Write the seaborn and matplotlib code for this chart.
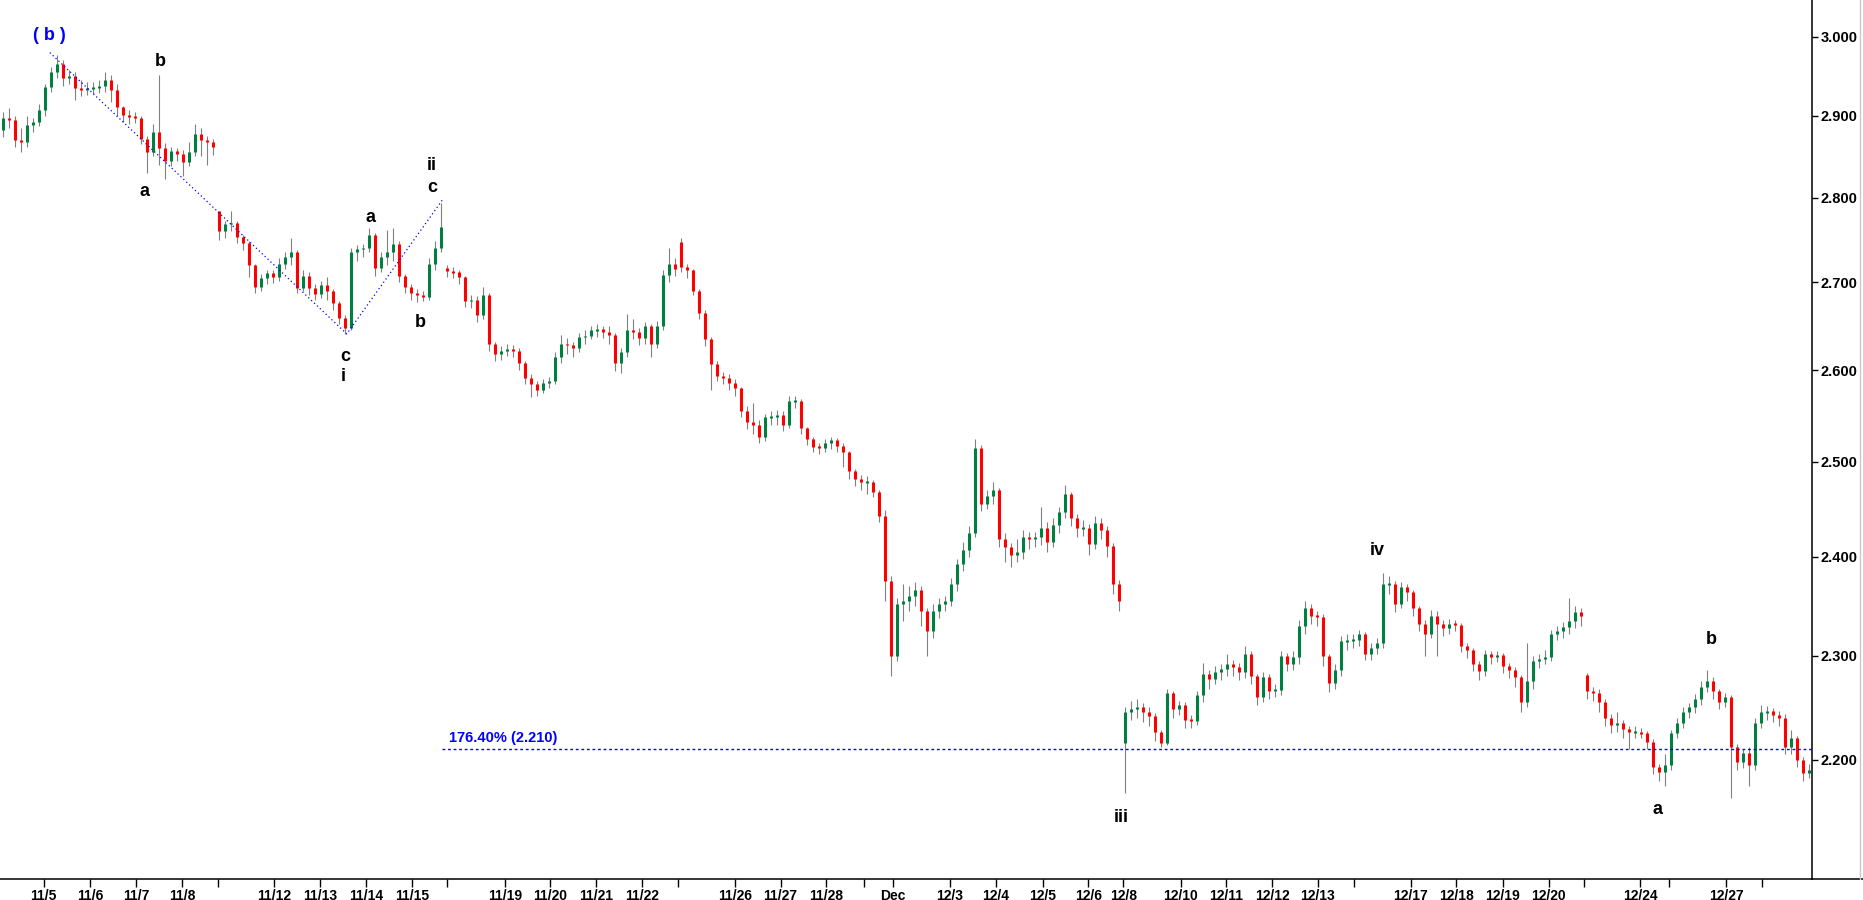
import numpy as np
import pandas as pd
import matplotlib
matplotlib.use("Agg")
import matplotlib.pyplot as plt
from matplotlib.lines import Line2D
from matplotlib.ticker import FixedLocator, FuncFormatter, NullLocator
import seaborn as sns

# Style
sns.set_theme(style="white")
plt.rcParams['font.family'] = ['Liberation Sans', 'DejaVu Sans']

OUT_FILE = "out.png"

# --- price data (one bar per ~1/8 session) ---
closes = [
    2.897, 2.895, 2.870, 2.868, 2.889, 2.892, 2.908, 2.936, 2.955, 2.966,
    2.948, 2.950, 2.935, 2.932, 2.935, 2.935, 2.937, 2.945, 2.933, 2.911,
    2.901, 2.899, 2.898, 2.872, 2.855, 2.880, 2.860, 2.845, 2.857, 2.853,
    2.843, 2.855, 2.878, 2.870, 2.868, 2.862, 2.760, 2.768, 2.770, 2.753,
    2.746, 2.720, 2.695, 2.705, 2.711, 2.706, 2.722, 2.730, 2.735, 2.694,
    2.708, 2.694, 2.687, 2.697, 2.690, 2.676, 2.659, 2.648, 2.735, 2.739,
    2.740, 2.756, 2.717, 2.730, 2.735, 2.745, 2.707, 2.695, 2.688, 2.686,
    2.683, 2.722, 2.740, 2.765, 2.713, 2.712, 2.706, 2.678, 2.680, 2.662,
    2.685, 2.630, 2.618, 2.622, 2.624, 2.622, 2.608, 2.592, 2.585, 2.578,
    2.586, 2.588, 2.615, 2.630, 2.628, 2.625, 2.637, 2.639, 2.645, 2.646,
    2.643, 2.640, 2.608, 2.620, 2.645, 2.643, 2.636, 2.650, 2.630, 2.650,
    2.709, 2.722, 2.716, 2.718, 2.714, 2.690, 2.665, 2.635, 2.607, 2.594,
    2.592, 2.586, 2.580, 2.555, 2.543, 2.540, 2.527, 2.548, 2.548, 2.551,
    2.540, 2.566, 2.566, 2.536, 2.525, 2.516, 2.515, 2.520, 2.523, 2.517,
    2.510, 2.490, 2.482, 2.478, 2.478, 2.468, 2.442, 2.375, 2.300, 2.352,
    2.355, 2.360, 2.366, 2.345, 2.325, 2.345, 2.352, 2.355, 2.372, 2.393,
    2.407, 2.425, 2.515, 2.455, 2.464, 2.470, 2.418, 2.410, 2.402, 2.405,
    2.420, 2.418, 2.420, 2.430, 2.415, 2.433, 2.447, 2.466, 2.440, 2.430,
    2.430, 2.413, 2.435, 2.428, 2.411, 2.372, 2.355, 2.245, 2.248, 2.250,
    2.245, 2.241, 2.226, 2.216, 2.264, 2.248, 2.252, 2.238, 2.237, 2.262,
    2.282, 2.277, 2.284, 2.287, 2.292, 2.289, 2.284, 2.302, 2.280, 2.260,
    2.279, 2.266, 2.267, 2.300, 2.292, 2.299, 2.330, 2.348, 2.340, 2.339,
    2.300, 2.273, 2.286, 2.315, 2.315, 2.316, 2.322, 2.302, 2.308, 2.313,
    2.372, 2.372, 2.352, 2.369, 2.364, 2.348, 2.332, 2.322, 2.340, 2.332,
    2.328, 2.332, 2.331, 2.310, 2.306, 2.292, 2.285, 2.302, 2.299, 2.301,
    2.290, 2.286, 2.279, 2.255, 2.275, 2.295, 2.297, 2.299, 2.322, 2.325,
    2.329, 2.335, 2.344, 2.340, 2.266, 2.264, 2.255, 2.240, 2.233, 2.235,
    2.229, 2.226, 2.226, 2.225, 2.217, 2.193, 2.188, 2.195, 2.225, 2.235,
    2.245, 2.250, 2.258, 2.270, 2.275, 2.266, 2.255, 2.260, 2.212, 2.198,
    2.206, 2.195, 2.235, 2.245, 2.246, 2.242, 2.240, 2.212, 2.220, 2.200,
    2.187, 2.190,
]

highs = [
    2.905, 2.910, 2.900, 2.885, 2.900, 2.898, 2.915, 2.940, 2.962, 2.977,
    2.970, 2.958, 2.955, 2.945, 2.942, 2.942, 2.945, 2.955, 2.952, 2.940,
    2.913, 2.908, 2.905, 2.900, 2.875, 2.890, 2.951, 2.866, 2.862, 2.860,
    2.858, 2.868, 2.890, 2.885, 2.875, 2.872, 2.784, 2.772, 2.784, 2.772,
    2.756, 2.748, 2.722, 2.710, 2.715, 2.714, 2.728, 2.736, 2.752, 2.738,
    2.715, 2.712, 2.698, 2.702, 2.706, 2.692, 2.678, 2.662, 2.740, 2.744,
    2.745, 2.764, 2.758, 2.736, 2.762, 2.764, 2.748, 2.710, 2.698, 2.692,
    2.690, 2.728, 2.748, 2.794, 2.720, 2.718, 2.714, 2.708, 2.686, 2.684,
    2.695, 2.688, 2.632, 2.627, 2.630, 2.628, 2.625, 2.610, 2.596, 2.588,
    2.590, 2.593, 2.620, 2.640, 2.636, 2.632, 2.642, 2.645, 2.650, 2.652,
    2.650, 2.650, 2.642, 2.625, 2.664, 2.658, 2.648, 2.655, 2.652, 2.656,
    2.715, 2.740, 2.728, 2.752, 2.722, 2.716, 2.692, 2.668, 2.638, 2.610,
    2.598, 2.596, 2.590, 2.582, 2.560, 2.564, 2.545, 2.552, 2.555, 2.556,
    2.555, 2.572, 2.572, 2.568, 2.538, 2.527, 2.520, 2.524, 2.527, 2.526,
    2.520, 2.512, 2.492, 2.486, 2.485, 2.480, 2.470, 2.449, 2.380, 2.358,
    2.372, 2.370, 2.374, 2.370, 2.348, 2.352, 2.358, 2.360, 2.378, 2.398,
    2.415, 2.432, 2.525, 2.518, 2.470, 2.478, 2.472, 2.425, 2.414, 2.418,
    2.428, 2.426, 2.426, 2.452, 2.436, 2.440, 2.452, 2.475, 2.468, 2.444,
    2.438, 2.434, 2.442, 2.440, 2.432, 2.414, 2.376, 2.250, 2.256, 2.258,
    2.254, 2.250, 2.244, 2.228, 2.268, 2.266, 2.256, 2.255, 2.242, 2.266,
    2.293, 2.286, 2.290, 2.292, 2.302, 2.296, 2.293, 2.310, 2.305, 2.282,
    2.284, 2.282, 2.272, 2.305, 2.303, 2.305, 2.336, 2.355, 2.352, 2.345,
    2.342, 2.302, 2.292, 2.320, 2.322, 2.322, 2.326, 2.324, 2.313, 2.318,
    2.383, 2.380, 2.375, 2.374, 2.372, 2.366, 2.350, 2.336, 2.346, 2.345,
    2.336, 2.337, 2.336, 2.333, 2.313, 2.308, 2.295, 2.306, 2.305, 2.305,
    2.303, 2.293, 2.289, 2.281, 2.313, 2.300, 2.302, 2.306, 2.326, 2.330,
    2.334, 2.358, 2.350, 2.348, 2.283, 2.270, 2.268, 2.258, 2.243, 2.245,
    2.238, 2.232, 2.232, 2.230, 2.227, 2.219, 2.196, 2.205, 2.228, 2.240,
    2.250, 2.254, 2.263, 2.275, 2.286, 2.279, 2.268, 2.264, 2.262, 2.215,
    2.210, 2.212, 2.240, 2.252, 2.251, 2.249, 2.246, 2.243, 2.228, 2.222,
    2.202, 2.196,
]

lows = [
    2.874, 2.885, 2.862, 2.855, 2.862, 2.880, 2.888, 2.900, 2.930, 2.948,
    2.938, 2.940, 2.920, 2.925, 2.926, 2.928, 2.929, 2.930, 2.918, 2.900,
    2.893, 2.890, 2.891, 2.865, 2.830, 2.850, 2.840, 2.822, 2.838, 2.845,
    2.826, 2.838, 2.850, 2.850, 2.840, 2.852, 2.750, 2.752, 2.760, 2.746,
    2.738, 2.706, 2.688, 2.690, 2.698, 2.699, 2.702, 2.716, 2.720, 2.688,
    2.690, 2.686, 2.680, 2.682, 2.680, 2.668, 2.652, 2.641, 2.645, 2.725,
    2.730, 2.735, 2.708, 2.712, 2.720, 2.725, 2.700, 2.688, 2.680, 2.677,
    2.678, 2.680, 2.715, 2.735, 2.706, 2.705, 2.698, 2.672, 2.670, 2.655,
    2.658, 2.622, 2.610, 2.612, 2.616, 2.615, 2.600, 2.585, 2.570, 2.572,
    2.575, 2.580, 2.585, 2.608, 2.618, 2.615, 2.620, 2.630, 2.635, 2.638,
    2.636, 2.630, 2.599, 2.597, 2.615, 2.635, 2.628, 2.630, 2.615, 2.625,
    2.645, 2.700, 2.708, 2.712, 2.705, 2.685, 2.658, 2.627, 2.578, 2.588,
    2.585, 2.578, 2.572, 2.548, 2.535, 2.530, 2.520, 2.522, 2.540, 2.540,
    2.533, 2.536, 2.558, 2.530, 2.518, 2.510, 2.508, 2.510, 2.514, 2.510,
    2.494, 2.482, 2.474, 2.470, 2.466, 2.462, 2.436, 2.355, 2.280, 2.295,
    2.335, 2.345, 2.350, 2.330, 2.300, 2.318, 2.338, 2.345, 2.350, 2.365,
    2.385, 2.400, 2.420, 2.448, 2.450, 2.455, 2.410, 2.395, 2.390, 2.395,
    2.398, 2.408, 2.410, 2.412, 2.405, 2.410, 2.425, 2.440, 2.432, 2.420,
    2.422, 2.402, 2.408, 2.418, 2.400, 2.362, 2.345, 2.169, 2.238, 2.240,
    2.236, 2.232, 2.218, 2.212, 2.214, 2.240, 2.242, 2.230, 2.230, 2.233,
    2.255, 2.268, 2.272, 2.276, 2.280, 2.280, 2.276, 2.278, 2.272, 2.252,
    2.255, 2.258, 2.260, 2.262, 2.285, 2.286, 2.292, 2.322, 2.332, 2.330,
    2.290, 2.265, 2.268, 2.280, 2.306, 2.308, 2.310, 2.296, 2.296, 2.302,
    2.308, 2.362, 2.344, 2.348, 2.355, 2.340, 2.325, 2.300, 2.318, 2.300,
    2.320, 2.322, 2.325, 2.304, 2.298, 2.285, 2.276, 2.280, 2.292, 2.294,
    2.283, 2.278, 2.270, 2.245, 2.250, 2.268, 2.288, 2.292, 2.295, 2.316,
    2.318, 2.322, 2.328, 2.330, 2.258, 2.256, 2.245, 2.232, 2.225, 2.226,
    2.220, 2.210, 2.220, 2.220, 2.210, 2.186, 2.180, 2.175, 2.190, 2.220,
    2.230, 2.240, 2.244, 2.252, 2.265, 2.258, 2.248, 2.250, 2.164, 2.190,
    2.192, 2.175, 2.190, 2.230, 2.238, 2.236, 2.232, 2.205, 2.205, 2.193,
    2.180, 2.183,
]

first_open = 2.882
# weekly session opens that gap away from the previous close
gap_bars = [36, 74, 113, 187, 264]
gap_opens = [2.784, 2.717, 2.747, 2.216, 2.281]

# date ticks (positions in bar units), blank label = session start tick
tick_bars = [6.8, 14.5, 22.2, 29.9, 35.8, 45.2, 52.8, 60.5, 68.2, 74.0,
             83.7, 91.2, 98.8, 106.5, 112.5, 122.0, 129.6, 137.2, 143.5, 148.3,
             157.8, 165.5, 173.3, 180.9, 186.7, 196.3, 203.9, 211.5, 219.1, 225.1,
             234.6, 242.2, 250.0, 257.6, 263.5, 272.9, 277.7, 287.2, 293.1]
tick_labels = ["11/5", "11/6", "11/7", "11/8", "", "11/12", "11/13", "11/14", "11/15", "",
               "11/19", "11/20", "11/21", "11/22", "", "11/26", "11/27", "11/28", "", "Dec",
               "12/3", "12/4", "12/5", "12/6", "12/8", "12/10", "12/11", "12/12", "12/13", "",
               "12/17", "12/18", "12/19", "12/20", "", "12/24", "", "12/27", ""]

y_ticks = [2.2, 2.3, 2.4, 2.5, 2.6, 2.7, 2.8, 2.9, 3.0]

# Elliott wave annotations
wave_line_x = [7.8, 57.3, 73.3]
wave_line_y = [2.980, 2.641, 2.798]
wave_text = ["( b )", "b", "a", "c", "i", "a", "b", "ii", "c", "iii", "iv", "b", "a"]
wave_text_x = [7.8, 26.2, 23.5, 57.0, 56.7, 61.3, 69.5, 71.5, 71.5, 186.3, 229.0, 284.7, 275.8]
wave_text_y = [3.002, 2.968, 2.808, 2.616, 2.593, 2.776, 2.654, 2.839, 2.812, 2.146, 2.407, 2.316, 2.153]
wave_text_color = ["blue"] + ["black"] * 12

fib_level = 2.210
fib_start = 73.2
fib_label = "176.40% (2.210)"


def build_frame():
    df = pd.DataFrame({"close": closes, "high": highs, "low": lows})
    df["bar"] = np.arange(len(df))
    df["open"] = df["close"].shift(1)
    df.loc[0, "open"] = first_open
    df.loc[gap_bars, "open"] = gap_opens
    df["high"] = df[["high", "open", "close"]].max(axis=1)
    df["low"] = df[["low", "open", "close"]].min(axis=1)
    return df


def plot_candles(ax, df):
    ax.vlines(df["bar"], df["low"], df["high"], color="#808080", lw=0.8, zorder=2)
    top = df[["open", "close"]].max(axis=1).to_numpy()
    bot = df[["open", "close"]].min(axis=1).to_numpy()
    mid = (top + bot) / 2
    thin = (top - bot) < 0.002
    top = np.where(thin, mid + 0.001, top)
    bot = np.where(thin, mid - 0.001, bot)
    up = (df["close"] >= df["open"]).to_numpy()
    ax.vlines(df["bar"][up], bot[up], top[up], color="#008040", lw=2.2, zorder=3)
    ax.vlines(df["bar"][~up], bot[~up], top[~up], color="#ff0000", lw=2.2, zorder=3)


def main():
    df = build_frame()

    fig = plt.figure(figsize=(18.63, 9), dpi=100)
    ax = fig.add_axes([0.0, 21 / 900, 1812 / 1863, 879 / 900])

    plot_candles(ax, df)

    # wave count lines and labels
    ax.plot(wave_line_x, wave_line_y, color="blue", lw=0.9, ls=(0, (1, 2.2)), zorder=4)
    for t, x, y, c in zip(wave_text, wave_text_x, wave_text_y, wave_text_color):
        ax.text(x, y, t, color=c, fontsize=13, fontweight="bold", ha="center", va="center")

    # fibonacci extension level
    ax.hlines(fib_level, fib_start, len(df) + 5, color="blue", lw=1.0, ls=(0, (2, 2)), zorder=4)
    ax.text(fib_start + 1.2, fib_level * 1.0015, fib_label, color="blue", fontsize=10.5,
            fontweight="bold", ha="left", va="bottom")

    ax.set_yscale("log")
    ax.set_ylim(2.090, 3.048)
    ax.set_xlim(-0.5, 301.5)

    ax.yaxis.set_major_locator(FixedLocator(y_ticks))
    ax.yaxis.set_major_formatter(FuncFormatter(lambda v, _: f"{v:.3f}"))
    ax.yaxis.set_minor_locator(NullLocator())
    ax.yaxis.tick_right()
    ax.tick_params(axis="y", which="major", direction="out", length=4, width=1,
                   pad=2, labelsize=10.5, colors="black")

    ax.set_xticks(tick_bars)
    ax.set_xticklabels(tick_labels)
    ax.xaxis.set_minor_locator(NullLocator())
    ax.tick_params(axis="x", direction="out", length=6, width=1, pad=1,
                   labelsize=10, colors="black", bottom=True)
    for lab in ax.get_xticklabels() + ax.get_yticklabels():
        lab.set_fontweight("bold")

    for side in ["left", "top"]:
        ax.spines[side].set_visible(False)
    for side in ["right", "bottom"]:
        ax.spines[side].set_visible(True)
        ax.spines[side].set_color("black")
        ax.spines[side].set_linewidth(1.1)
    ax.grid(False)
    ax.set_facecolor("white")

    # axis line runs on to the figure edge, thin frame line at the right
    fig.add_artist(Line2D([1812 / 1863, 1.0], [21 / 900, 21 / 900], color="black", lw=1.1))
    fig.add_artist(Line2D([1860 / 1863, 1860 / 1863], [21 / 900, 1.0], color="#c8c8c8", lw=1.0))

    fig.savefig(OUT_FILE, dpi=100, facecolor="white")
    print(f"Saved {OUT_FILE}")


if __name__ == "__main__":
    main()
